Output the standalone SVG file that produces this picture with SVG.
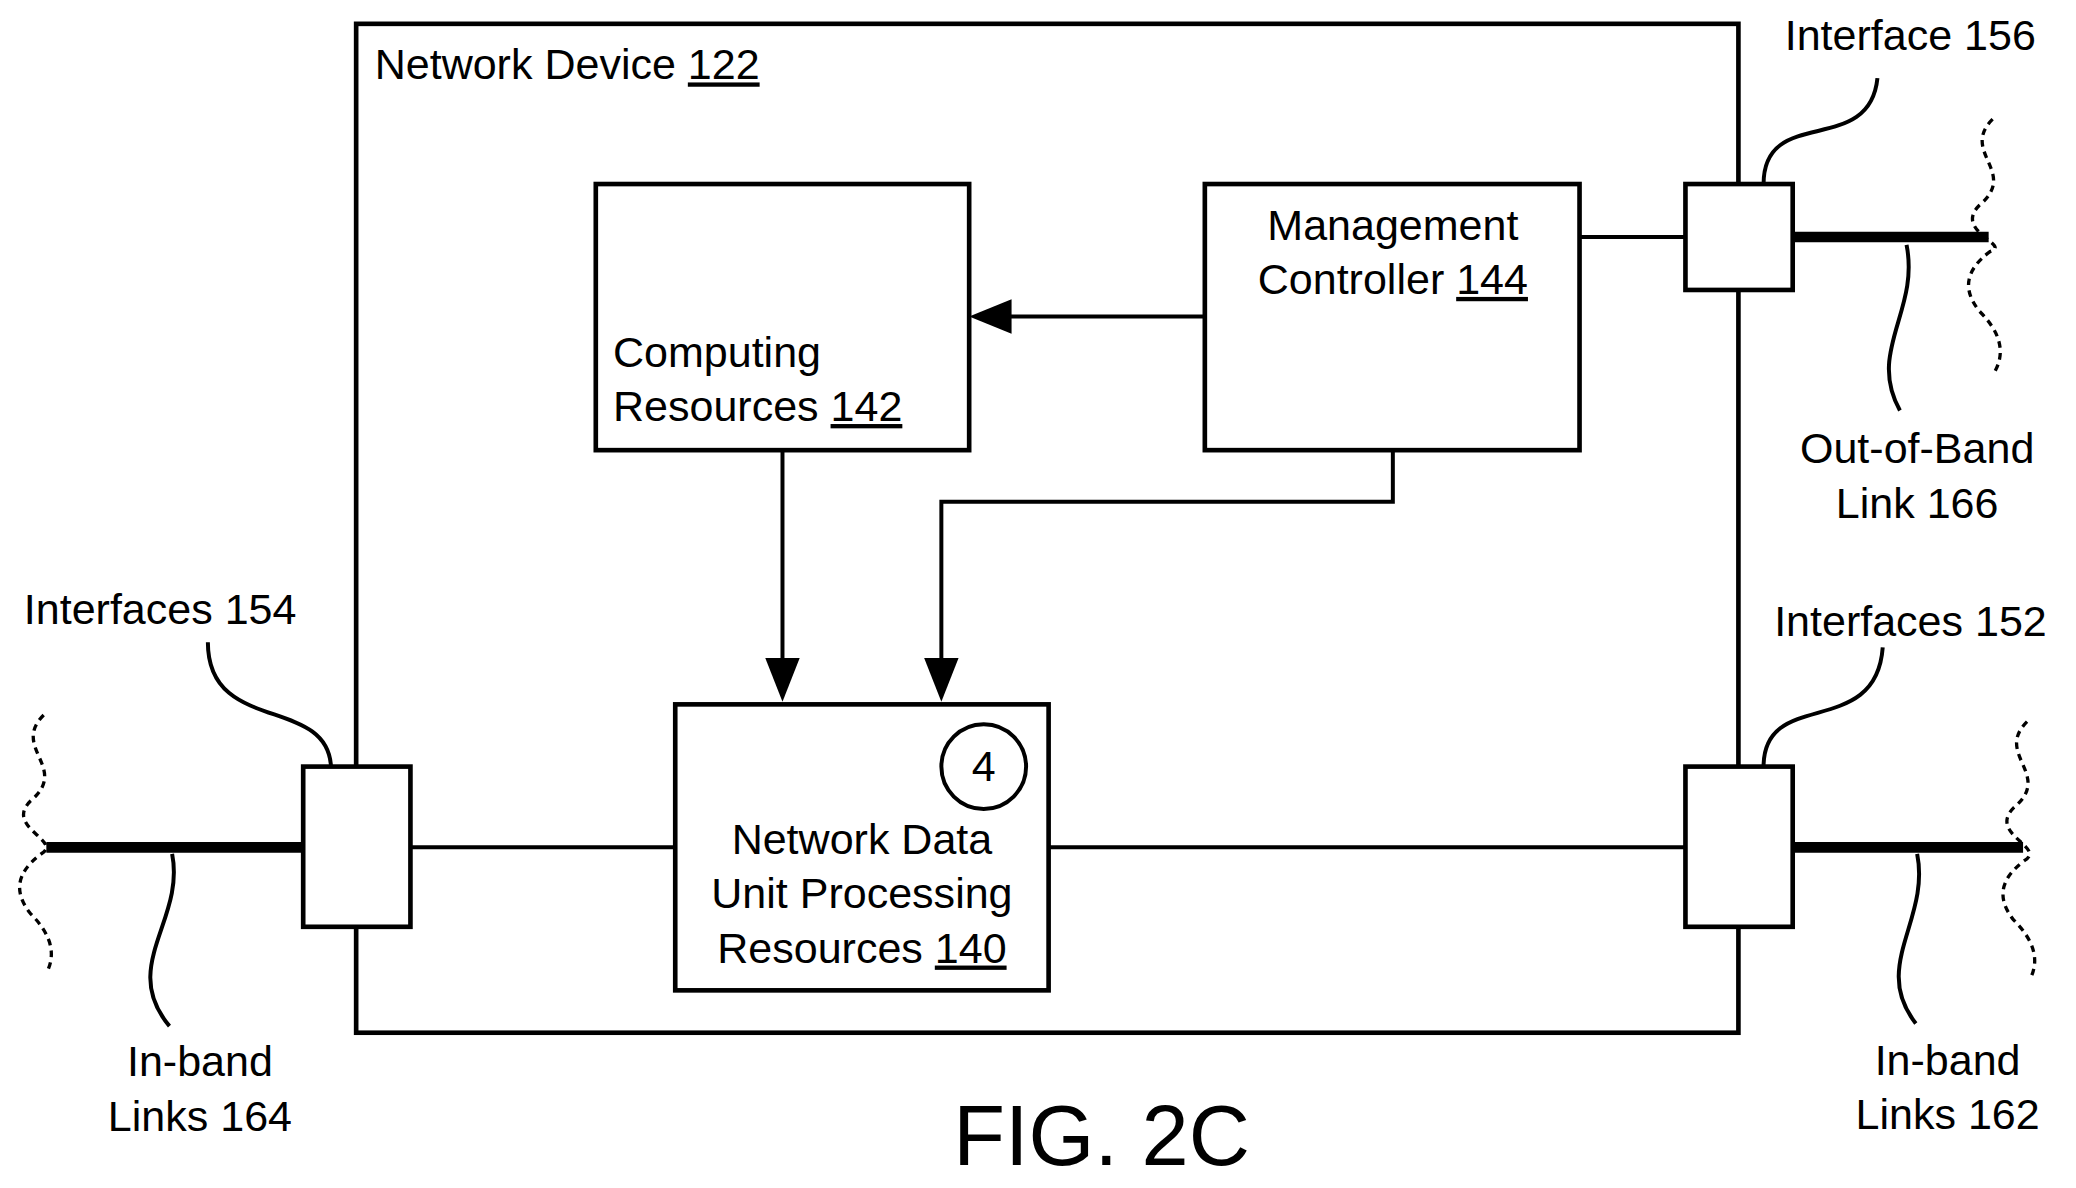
<svg xmlns="http://www.w3.org/2000/svg" width="2076" height="1188" viewBox="0 0 2076 1188">
<defs>
<style>
.b{fill:#fff;stroke:#000;stroke-width:3.5}
.l{fill:none;stroke:#000;stroke-width:3}
.k{fill:none;stroke:#000;stroke-width:8}
.d{fill:none;stroke:#000;stroke-width:2.5;stroke-dasharray:5 4}
text{font-family:"Liberation Sans",Arial,sans-serif;font-size:32.5px;fill:#000}
.m{text-anchor:middle}
</style>
</defs>
<rect width="2076" height="1188" fill="#fff"/>
<g transform="scale(1.324)">
<g id="device"><rect class="b" x="269" y="18" width="1044" height="762"/><text x="283" y="60">Network Device <tspan text-decoration="underline">122</tspan></text></g>
<g id="connectors">
<path class="l" d="M910,239H760" /><path d="M732,239L764,226V252z"/>
<path class="l" d="M591,340V500"/><path d="M591,530L578,497H604z"/>
<path class="l" d="M1052,340V379H711V500"/><path d="M711,530L698,497H724z"/>
<path class="l" d="M310,640H510M792,640H1273M1193,179H1273"/>
<path class="k" d="M35,640H229M1354,640H1528M1354,179H1502"/>
<path class="d" d="M33,540c-25,25 20,40 -10,65c-20,20 25,30 8,40c-20,15 -20,30 -8,45c15,15 20,30 12,45"/>
<path class="d" d="M1531,545c-25,25 20,40 -10,65c-20,20 25,30 8,40c-20,15 -20,30 -8,45c15,15 20,30 12,45"/>
<path class="d" d="M1505,90c-25,25 20,40 -10,65c-20,20 25,30 8,35c-20,15 -20,30 -8,45c15,15 20,30 12,45"/>
<path class="l" d="M1332,139c0,-60 80,-20 86,-80"/>
<path class="l" d="M1332,579c0,-60 85,-20 90,-90"/>
<path class="l" d="M157,485c0,70 90,40 93,94"/>
<path class="l" d="M1440,185c10,50 -30,80 -5,125"/>
<path class="l" d="M130,645c10,50 -40,85 -2,130"/>
<path class="l" d="M1448,645c10,50 -35,85 -1,128"/>
</g>
<g id="computing"><rect class="b" x="450" y="139" width="282" height="201"/><text x="463" y="277">Computing</text><text x="463" y="318">Resources <tspan text-decoration="underline">142</tspan></text></g>
<g id="mgmt"><rect class="b" x="910" y="139" width="283" height="201"/><text class="m" x="1052" y="181">Management</text><text class="m" x="1052" y="222">Controller <tspan text-decoration="underline">144</tspan></text></g>
<g id="ndu"><rect class="b" x="510" y="532" width="282" height="216"/><circle cx="743" cy="579" r="32" fill="none" stroke="#000" stroke-width="3"/><text class="m" x="743" y="590">4</text><text class="m" x="651" y="645">Network Data</text><text class="m" x="651" y="686">Unit Processing</text><text class="m" x="651" y="727">Resources <tspan text-decoration="underline">140</tspan></text></g>
<g id="if154"><rect class="b" x="229" y="579" width="81" height="121"/></g>
<g id="if152"><rect class="b" x="1273" y="579" width="81" height="121"/></g>
<g id="if156"><rect class="b" x="1273" y="139" width="81" height="80"/></g>
<g id="labels">
<text x="1348" y="38">Interface 156</text>
<text class="m" x="1448" y="350">Out-of-Band</text><text class="m" x="1448" y="391">Link 166</text>
<text x="1340" y="480">Interfaces 152</text>
<text x="18" y="471">Interfaces 154</text>
<text class="m" x="151" y="813">In-band</text><text class="m" x="151" y="854">Links 164</text>
<text class="m" x="1471" y="812">In-band</text><text class="m" x="1471" y="853">Links 162</text>
<text class="m" x="832" y="880" style="font-size:64px">FIG. 2C</text>
</g>
</g>
</svg>
